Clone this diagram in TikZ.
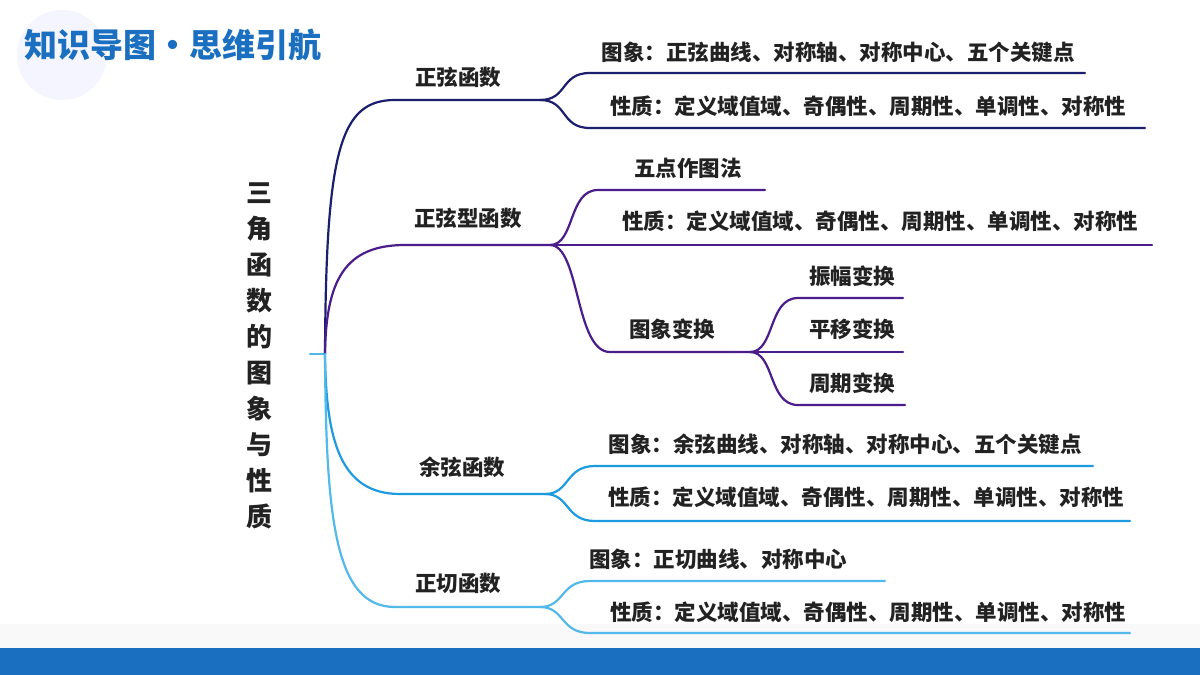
\documentclass[tikz,border=0pt]{standalone}
\usepackage{fontspec}
\setmainfont{Noto Sans CJK SC}
\definecolor{cA}{HTML}{1B1F6E}
\definecolor{cB}{HTML}{4A1C8C}
\definecolor{cC}{HTML}{1E9BE0}
\definecolor{cD}{HTML}{52B9EA}
\definecolor{tit}{HTML}{1A6FC0}
\definecolor{txt}{HTML}{222222}
\begin{document}
\begin{tikzpicture}[x=1pt,y=-1pt,
 br/.style={line width=2.2pt,line cap=round},
 lab/.style={font=\fontsize{21.5}{21.5}\selectfont\bfseries,text=txt,inner sep=0pt}]
\useasboundingbox (0,0) rectangle (1200,675);
\fill[white] (0,0) rectangle (1200,675);
\fill[blue!4] (62,55) circle (45);
\fill[black!2.5] (0,624) rectangle (1200,648);
\fill[tit] (0,648) rectangle (1200,675);
\node[font=\fontsize{33}{33}\selectfont\bfseries,text=tit,anchor=west,inner sep=0pt] (title) at (24,45) {知识导图·思维引航};
% root
\node[lab,font=\fontsize{26}{36}\selectfont\bfseries,align=center,anchor=center] (root) at (259,356) {三\\角\\函\\数\\的\\图\\象\\与\\性\\质};
\coordinate (r) at (325,354);
\coordinate (r0) at (310,354);
\draw[br,cD] (r0) -- (r);
% branch 1
\coordinate (a) at (540,100);
\draw[br,cA] (r) .. controls (326,150) and (340,100) .. (395,100) -- (a);
\node[lab] (aT) at (458,77) {正弦函数};
\coordinate (a1) at (1085,73); \coordinate (a2) at (1145,128);
\draw[br,cA] (a) .. controls (568,100) and (560,73) .. (590,73) -- (a1);
\draw[br,cA] (a) .. controls (568,100) and (560,128) .. (590,128) -- (a2);
\node[lab] (a1T) at (838,52) {图象：正弦曲线、对称轴、对称中心、五个关键点};
\node[lab] (a2T) at (868,106) {性质：定义域值域、奇偶性、周期性、单调性、对称性};
% branch 2
\coordinate (b) at (550,245);
\draw[br,cB] (r) .. controls (326,280) and (345,245) .. (405,245) -- (b);
\node[lab] (bT) at (468,218) {正弦型函数};
\coordinate (b1) at (765,190); \coordinate (b2) at (1152,245); \coordinate (b3) at (750,352);
\draw[br,cB] (b) .. controls (575,245) and (568,190) .. (598,190) -- (b1);
\draw[br,cB] (b) -- (b2);
\draw[br,cB] (b) .. controls (580,245) and (575,352) .. (610,352) -- (b3);
\node[lab] (b1T) at (688,168) {五点作图法};
\node[lab] (b2T) at (880,221) {性质：定义域值域、奇偶性、周期性、单调性、对称性};
\node[lab] (b3T) at (672,329) {图象变换};
\coordinate (c1) at (903,298); \coordinate (c2) at (903,352); \coordinate (c3) at (905,405);
\draw[br,cB] (b3) .. controls (775,352) and (768,298) .. (798,298) -- (c1);
\draw[br,cB] (b3) -- (c2);
\draw[br,cB] (b3) .. controls (775,352) and (768,405) .. (798,405) -- (c3);
\node[lab] (c1T) at (852,276) {振幅变换};
\node[lab] (c2T) at (852,329) {平移变换};
\node[lab] (c3T) at (852,383) {周期变换};
% branch 3
\coordinate (d) at (545,494);
\draw[br,cC] (r) .. controls (326,440) and (340,494) .. (400,494) -- (d);
\node[lab] (dT) at (462,467) {余弦函数};
\coordinate (d1) at (1093,466); \coordinate (d2) at (1130,521);
\draw[br,cC] (d) .. controls (570,494) and (565,466) .. (595,466) -- (d1);
\draw[br,cC] (d) .. controls (570,494) and (565,521) .. (595,521) -- (d2);
\node[lab] (d1T) at (845,444) {图象：余弦曲线、对称轴、对称中心、五个关键点};
\node[lab] (d2T) at (866,497) {性质：定义域值域、奇偶性、周期性、单调性、对称性};
% branch 4
\coordinate (e) at (540,607);
\draw[br,cD] (r) .. controls (326,520) and (335,607) .. (395,607) -- (e);
\node[lab] (eT) at (458,583) {正切函数};
\coordinate (e1) at (885,581); \coordinate (e2) at (1130,633);
\draw[br,cD] (e) .. controls (565,607) and (560,581) .. (590,581) -- (e1);
\draw[br,cD] (e) .. controls (565,607) and (560,633) .. (590,633) -- (e2);
\node[lab] (e1T) at (718,559) {图象：正切曲线、对称中心};
\node[lab] (e2T) at (868,612) {性质：定义域值域、奇偶性、周期性、单调性、对称性};
\end{tikzpicture}
\end{document}
